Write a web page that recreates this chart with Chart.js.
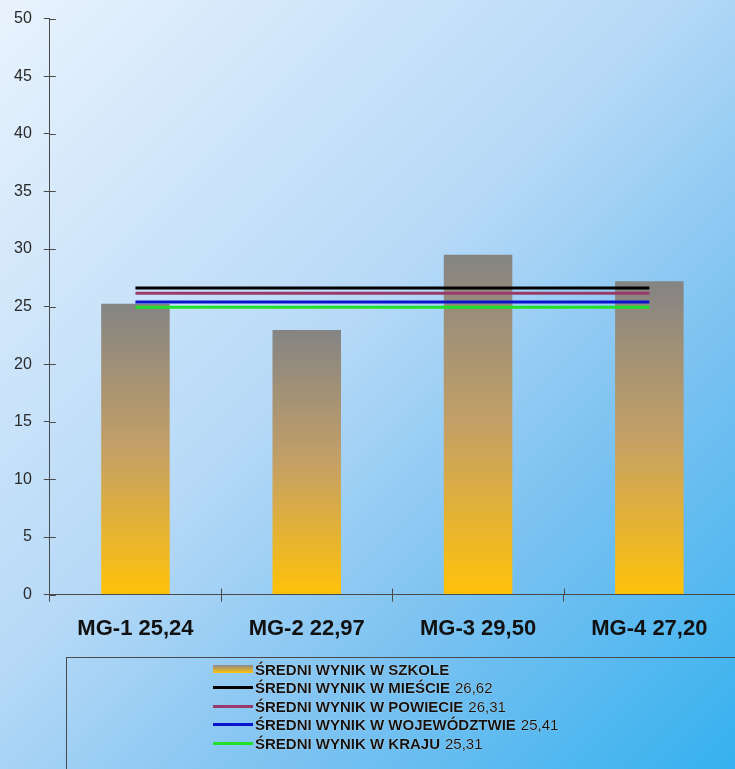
<!DOCTYPE html>
<html>
<head>
<meta charset="utf-8">
<script src="https://cdn.jsdelivr.net/npm/chart.js@4"></script>
<style>
    html, body {
        margin: 0;
        padding: 0;
    }
    body {
        width: 735px;
        height: 769px;
        overflow: hidden;
        position: relative;
        background: linear-gradient(135deg, #e9f3fd 0%, #b6d9f7 45%, #7cc2f1 70%, #35b1ef 100%);
        font-family: "Liberation Sans", Arial, sans-serif;
    }
    #canvas {
        position: absolute;
        left: 0;
        top: -3px;
    }
    #legend {
        position: absolute;
        left: 66px;
        top: 657px;
        width: 700px;
        height: 140px;
        border: 1px solid #4a4a4a;
        box-sizing: border-box;
    }
    .item {
        position: absolute;
        left: 146px;
        height: 18px;
        display: flex;
        align-items: center;
        font-weight: bold;
        font-size: 15px;
        color: #111;
        white-space: nowrap;
        text-shadow: 0 0 1px #fff;
    }
    .sample {
        width: 40px;
        height: 3px;
        margin-right: 2px;
    }
    .num {
        font-weight: normal;
        font-size: 15px;
        margin-left: 5px;
    }
</style>
</head>
<body>
<canvas id="canvas" width="735" height="665"></canvas>
<div id="legend"></div>
<script>
const categories = ["MG-1 25,24", "MG-2 22,97", "MG-3 29,50", "MG-4 27,20"];
const schoolScores = [25.24, 22.97, 29.50, 27.20];

// average lines, as drawn on the picture
const cityAvg = [26.62, 26.62, 26.62, 26.62];
const countyAvg = [26.15, 26.15, 26.15, 26.15];
const provinceAvg = [25.41, 25.41, 25.41, 25.41];
const countryAvg = [24.95, 24.95, 24.95, 24.95];

const legendNames = [
    "ŚREDNI WYNIK W SZKOLE",
    "ŚREDNI WYNIK W MIEŚCIE",
    "ŚREDNI WYNIK W POWIECIE",
    "ŚREDNI WYNIK W WOJEWÓDZTWIE",
    "ŚREDNI WYNIK W KRAJU"
];
const legendNumbers = ["", "26,62", "26,31", "25,41", "25,31"];
const lineColors = ["#000000", "#9a3a6a", "#0a14cc", "#22e02a"];

function l(element) {
    return document.getElementById(element);
}

function barFill(ctx) {
    const chart = ctx.chart;
    if (!chart.chartArea || ctx.type !== "data") return "#ffc000";
    const y = chart.scales.y;
    const top = y.getPixelForValue(ctx.raw);
    const bottom = y.getPixelForValue(0);
    const g = chart.ctx.createLinearGradient(0, top, 0, bottom);
    g.addColorStop(0, "#848484");
    g.addColorStop(0.5, "#c4a066");
    g.addColorStop(1, "#ffc20a");
    return g;
}

function lineSet(label, data, color) {
    return {
        type: "line",
        label: label,
        data: data,
        borderColor: color,
        backgroundColor: color,
        borderWidth: 3,
        pointRadius: 0,
        fill: false,
        order: 0
    };
}

// small tick marks that cross into the plot, like the original
const crossTicks = {
    id: "crossTicks",
    afterDraw(chart) {
        const c = chart.ctx;
        const x = chart.scales.x, y = chart.scales.y;
        c.save();
        c.strokeStyle = "#4a4a4a";
        c.lineWidth = 1;
        c.beginPath();
        y.ticks.forEach((t, i) => {
            const py = Math.round(y.getPixelForTick(i)) + 0.5;
            c.moveTo(x.left, py);
            c.lineTo(x.left + 6, py);
        });
        for (let i = 0; i < x.ticks.length - 1; i++) {
            const px = Math.round((x.getPixelForTick(i) + x.getPixelForTick(i + 1)) / 2) + 0.5;
            c.moveTo(px, y.bottom);
            c.lineTo(px, y.bottom - 6);
        }
        c.stroke();
        c.restore();
    }
};

function buildLegend() {
    let str = "";
    legendNames.forEach((name, i) => {
        let sample;
        if (i === 0) {
            sample = '<span class="sample" style="height:8px;background:linear-gradient(#8a8a8a,#ffc20a)"></span>';
        } else {
            sample = '<span class="sample" style="background:' + lineColors[i - 1] + '"></span>';
        }
        const num = legendNumbers[i] ? '<span class="num">' + legendNumbers[i] + '</span>' : "";
        str += '<div class="item" style="top:' + (2 + i * 18.5) + 'px">' + sample + name + num + '</div>';
    });
    l("legend").innerHTML = str;
}

const chart = new Chart(l("canvas"), {
    type: "bar",
    data: {
        labels: categories,
        datasets: [
            {
                label: legendNames[0],
                data: schoolScores,
                backgroundColor: barFill,
                borderWidth: 0,
                categoryPercentage: 1,
                barPercentage: 0.4,
                order: 1
            },
            lineSet(legendNames[1], cityAvg, lineColors[0]),
            lineSet(legendNames[2], countyAvg, lineColors[1]),
            lineSet(legendNames[3], provinceAvg, lineColors[2]),
            lineSet(legendNames[4], countryAvg, lineColors[3])
        ]
    },
    options: {
        responsive: false,
        animation: false,
        layout: {
            padding: {left: 2, top: 7, right: 0, bottom: 6}
        },
        plugins: {
            legend: {display: false},
            tooltip: {enabled: false}
        },
        scales: {
            x: {
                grid: {
                    drawOnChartArea: false,
                    offset: true,
                    tickLength: 7,
                    color: "#4a4a4a"
                },
                border: {color: "#4a4a4a"},
                ticks: {
                    color: "#111",
                    padding: 14,
                    font: {family: "Liberation Sans", size: 22, weight: "bold"}
                }
            },
            y: {
                min: 0,
                max: 50,
                grid: {
                    drawOnChartArea: false,
                    tickLength: 6,
                    color: "#4a4a4a"
                },
                border: {color: "#4a4a4a"},
                ticks: {
                    stepSize: 5,
                    color: "#2a2a2a",
                    padding: 12,
                    font: {family: "Liberation Sans", size: 16}
                }
            }
        }
    },
    plugins: [crossTicks]
});

buildLegend();
</script>
</body>
</html>
